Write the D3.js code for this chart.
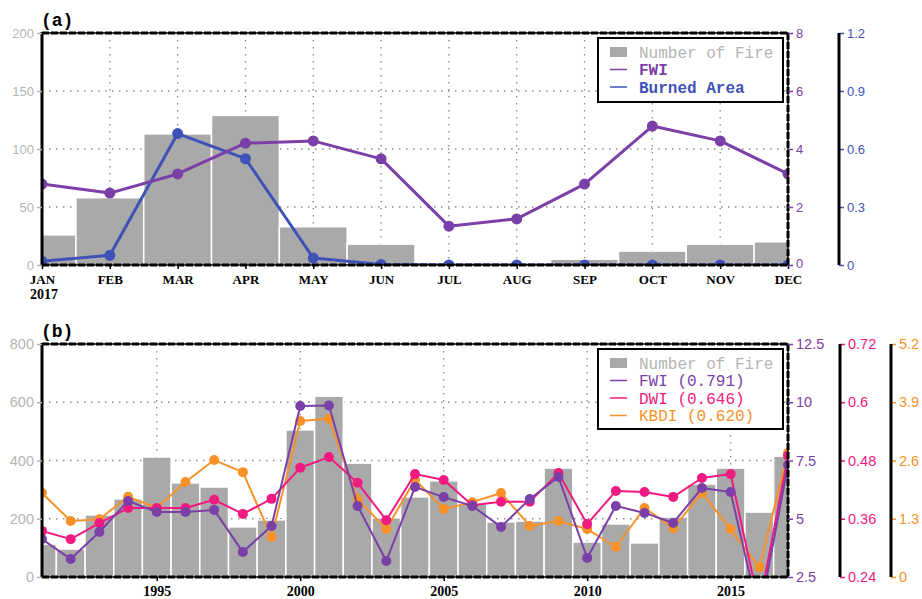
<!DOCTYPE html>
<html>
<head>
<meta charset="utf-8">
<script src="https://cdn.jsdelivr.net/npm/d3@7"></script>
<style>
  body { margin: 0; background: #fff; }
  svg { display: block; }
</style>
</head>
<body>
<div id="chart"></div>
<script>
// datos panel (a) - 2017 mensual
var months = ['JAN','FEB','MAR','APR','MAY','JUN','JUL','AUG','SEP','OCT','NOV','DEC']
var fireA = [26, 58, 113, 129, 33, 18, 0, 0, 5, 12, 18, 20]
var fwiA = [2.79, 2.48, 3.14, 4.2, 4.28, 3.66, 1.34, 1.59, 2.79, 4.79, 4.28, 3.14]
var burnedA = [0.02, 0.05, 0.68, 0.55, 0.036, 0.003, 0, 0, 0, 0, 0, 0]

// datos panel (b) - anual 1991-2017
var years = d3.range(1991, 2018)
var fireB = [113, 96, 213, 268, 412, 323, 309, 172, 196, 505, 621, 391, 203, 275, 330, 250, 189, 192, 374, 120, 182, 117, 206, 319, 374, 223, 415]
var fwiB = [4.13, 3.27, 4.43, 5.76, 5.29, 5.29, 5.38, 3.57, 4.69, 9.84, 9.86, 5.55, 3.19, 6.36, 5.93, 5.55, 4.65, 5.85, 6.79, 3.32, 5.55, 5.25, 4.82, 6.32, 6.15, 0.8, 7.31]
var dwiB = [0.335, 0.318, 0.351, 0.382, 0.382, 0.382, 0.399, 0.37, 0.401, 0.465, 0.487, 0.434, 0.357, 0.452, 0.44, 0.388, 0.395, 0.395, 0.454, 0.349, 0.417, 0.415, 0.405, 0.444, 0.452, 0.18, 0.49]
var kbdiB = [1.875, 1.25, 1.29, 1.79, 1.54, 2.12, 2.61, 2.34, 0.89, 3.48, 3.53, 1.74, 1.07, 2.17, 1.52, 1.67, 1.875, 1.14, 1.25, 1.07, 0.67, 1.54, 1.09, 1.875, 1.07, 0.22, 2.77]
var yearTicks = [1995, 2000, 2005, 2010, 2015]

var legendA = ['Number of Fire', 'FWI', 'Burned Area']
var legendB = ['Number of Fire', 'FWI (0.791)', 'DWI (0.646)', 'KBDI (0.620)']

// colores
var cBar = '#a9a9a9'
var cPurple = '#7b3fa8'
var cBlue = '#3f52b8'
var cPink = '#f01a80'
var cOrange = '#f7922a'
var cGrey = '#b4b4b4'

var width = 922
var height = 599
var left = 42, right = 788
var plain = function(d){ return String(d) }

var svg = d3.select('#chart')
    .append('svg')
    .attr('width', width)
    .attr('height', height)

var defs = svg.append('defs')

function clip(id, y0, y1){
    defs.append('clipPath').attr('id', id)
        .append('rect').attr('x', left).attr('y', y0)
        .attr('width', right - left).attr('height', y1 - y0)
    return 'url(#' + id + ')'
}

function frame(y0, y1){
    var g = svg.append('g')
    g.append('rect').attr('x', left).attr('y', y0).attr('width', right - left).attr('height', y1 - y0)
        .attr('fill', 'none').attr('stroke', '#000').attr('stroke-width', 1.5)
    var dash = [[left, y0, right, y0], [left, y1, right, y1], [right, y0, right, y1]]
    dash.forEach(function(d){
        g.append('line').attr('x1', d[0]).attr('y1', d[1]).attr('x2', d[2]).attr('y2', d[3])
            .attr('stroke', '#000').attr('stroke-width', 3).attr('stroke-dasharray', '7,2')
    })
    g.append('line').attr('x1', left).attr('y1', y0 - 1).attr('x2', left).attr('y2', y1 + 1)
        .attr('stroke', '#000').attr('stroke-width', 3)
}

function grid(g, xs, ys, y0, y1){
    xs.forEach(function(x){
        g.append('line').attr('x1', x).attr('x2', x).attr('y1', y0).attr('y2', y1)
            .attr('stroke', '#8a8a8a').attr('stroke-width', 1.3).attr('stroke-dasharray', '1.5,5.5')
    })
    ys.forEach(function(y){
        g.append('line').attr('x1', left).attr('x2', right).attr('y1', y).attr('y2', y)
            .attr('stroke', '#8a8a8a').attr('stroke-width', 1.3).attr('stroke-dasharray', '1.5,5.5')
    })
}

function styleAxis(g, color, size){
    g.select('.domain').remove()
    g.selectAll('.tick line').attr('stroke', color).attr('stroke-width', 1.5)
    g.selectAll('.tick text').attr('fill', color)
        .style('font-family', '"Liberation Sans", Arial, sans-serif').style('font-size', size + 'px')
}

// eje extra a la derecha (linea negra con ticks de color)
function sideAxis(x, scale, ticks, color, size, y0, y1){
    var g = svg.append('g').attr('transform', 'translate(' + x + ',0)')
        .call(d3.axisRight(scale).tickValues(ticks).tickSize(5).tickPadding(3).tickFormat(plain))
    styleAxis(g, color, size)
    g.append('line').attr('x1', 0).attr('x2', 0).attr('y1', y0).attr('y2', y1)
        .attr('stroke', '#000').attr('stroke-width', 3)
}

function legend(x0, y0, w, h, items, colors, bold){
    var g = svg.append('g')
    g.append('rect').attr('x', x0).attr('y', y0).attr('width', w).attr('height', h)
        .attr('fill', '#fff').attr('stroke', '#000').attr('stroke-width', 2)
    items.forEach(function(t, i){
        var cy = y0 + 14 + i * 17.5
        if (i == 0) {
            g.append('rect').attr('x', x0 + 12).attr('y', cy - 5).attr('width', 17).attr('height', 10).attr('fill', cBar)
        } else {
            g.append('line').attr('x1', x0 + 12).attr('x2', x0 + 29).attr('y1', cy).attr('y2', cy)
                .attr('stroke', colors[i]).attr('stroke-width', 1.5)
        }
        g.append('text').attr('x', x0 + 41).attr('y', cy).attr('dy', '0.35em')
            .attr('fill', i == 0 ? cGrey : colors[i])
            .style('font-family', '"Liberation Mono", "DejaVu Sans Mono", monospace')
            .style('font-size', '16px')
            .style('font-weight', (bold && i > 0) ? 'bold' : 'normal')
            .text(t)
    })
}

function serie(g, data, xf, yf, color, lw, r){
    var line = d3.line().x(function(d, i){ return xf(i) }).y(function(d){ return yf(d) })
    g.append('path').datum(data).attr('d', line)
        .attr('fill', 'none').attr('stroke', color).attr('stroke-width', lw).attr('stroke-linejoin', 'round')
    g.selectAll(null).data(data).enter().append('circle')
        .attr('cx', function(d, i){ return xf(i) })
        .attr('cy', function(d){ return yf(d) })
        .attr('r', r).attr('fill', color)
}

/* ---------------- panel (a) ---------------- */
var aTop = 33, aBot = 265

var xA = d3.scalePoint().domain(months).range([left, right])
var stepA = xA.step()
var yFireA = d3.scaleLinear().domain([0, 200]).range([aBot, aTop])
var yFwiA = d3.scaleLinear().domain([0, 8]).range([aBot, aTop])
var yBurnA = d3.scaleLinear().domain([0, 1.2]).range([aBot, aTop])

var gA = svg.append('g').attr('clip-path', clip('clipA', aTop, aBot))
grid(gA, months.slice(1, 11).map(function(m){ return xA(m) }), [50, 100, 150].map(yFireA), aTop, aBot)

gA.selectAll('rect.bar').data(fireA).enter().append('rect')
    .attr('class', 'bar')
    .attr('x', function(d, i){ return xA(months[i]) - stepA / 2 })
    .attr('y', function(d){ return yFireA(d) })
    .attr('width', stepA)
    .attr('height', function(d){ return aBot - yFireA(d) })
    .attr('fill', cBar).attr('stroke', '#fff').attr('stroke-width', 1.5)

serie(gA, burnedA, function(i){ return xA(months[i]) }, yBurnA, cBlue, 3, 5.5)
serie(gA, fwiA, function(i){ return xA(months[i]) }, yFwiA, cPurple, 3, 5.5)

frame(aTop, aBot)

var axA = svg.append('g').attr('transform', 'translate(' + left + ',0)')
    .call(d3.axisLeft(yFireA).tickValues([0, 50, 100, 150, 200]).tickSize(5).tickPadding(3))
styleAxis(axA, cGrey, 13)

var axAx = svg.append('g').attr('transform', 'translate(0,' + aBot + ')')
    .call(d3.axisBottom(xA).tickSize(4).tickPadding(6))
axAx.select('.domain').remove()
axAx.selectAll('.tick line').attr('stroke', '#000').attr('stroke-width', 1.5)
axAx.selectAll('.tick text').attr('fill', '#000')
    .style('font-family', '"Liberation Serif", "Times New Roman", serif')
    .style('font-size', '13px').style('font-weight', 'bold')
svg.append('text').attr('x', xA('JAN') + 2).attr('y', 299).attr('text-anchor', 'middle')
    .style('font-family', '"Liberation Serif", "Times New Roman", serif')
    .style('font-size', '14px').style('font-weight', 'bold').text('2017')

var axAf = svg.append('g').attr('transform', 'translate(' + right + ',0)')
    .call(d3.axisRight(yFwiA).tickValues([0, 2, 4, 6, 8]).tickSize(5).tickPadding(3))
styleAxis(axAf, cPurple, 13)
axAf.selectAll('.tick text').filter(function(d){ return d == 0 }).attr('y', -2)

sideAxis(839, yBurnA, [0, 0.3, 0.6, 0.9, 1.2], cBlue, 13, aTop, aBot)

legend(598, 38, 185, 64, legendA, [cBar, cPurple, cBlue], true)

svg.append('text').attr('x', 41).attr('y', 26)
    .style('font-family', '"Liberation Mono", "DejaVu Sans Mono", monospace')
    .style('font-size', '18px').style('font-weight', 'bold').text('(a)')

/* ---------------- panel (b) ---------------- */
var bTop = 344, bBot = 577

var xB = d3.scaleLinear().domain([1991, 2017]).range([left, right])
var stepB = xB(1992) - xB(1991)
var yFireB = d3.scaleLinear().domain([0, 800]).range([bBot, bTop])
var yFwiB = d3.scaleLinear().domain([2.5, 12.5]).range([bBot, bTop])
var yDwiB = d3.scaleLinear().domain([0.24, 0.72]).range([bBot, bTop])
var yKbdiB = d3.scaleLinear().domain([0, 5.2]).range([bBot, bTop])

var gB = svg.append('g').attr('clip-path', clip('clipB', bTop, bBot))
grid(gB, yearTicks.map(xB), [200, 400, 600].map(yFireB), bTop, bBot)

gB.selectAll('rect.bar').data(fireB).enter().append('rect')
    .attr('class', 'bar')
    .attr('x', function(d, i){ return xB(years[i]) - stepB / 2 })
    .attr('y', function(d){ return yFireB(d) })
    .attr('width', stepB)
    .attr('height', function(d){ return bBot - yFireB(d) })
    .attr('fill', cBar).attr('stroke', '#fff').attr('stroke-width', 1.5)

var xi = function(i){ return xB(years[i]) }
serie(gB, kbdiB, xi, yKbdiB, cOrange, 2, 5)
serie(gB, dwiB, xi, yDwiB, cPink, 2, 5)
serie(gB, fwiB, xi, yFwiB, cPurple, 2, 5)

frame(bTop, bBot)

var axB = svg.append('g').attr('transform', 'translate(' + left + ',0)')
    .call(d3.axisLeft(yFireB).tickValues([0, 200, 400, 600, 800]).tickSize(5).tickPadding(3))
styleAxis(axB, cGrey, 14.5)

var axBx = svg.append('g').attr('transform', 'translate(0,' + bBot + ')')
    .call(d3.axisBottom(xB).tickValues(yearTicks).tickFormat(d3.format('d')).tickSize(4).tickPadding(5))
axBx.select('.domain').remove()
axBx.selectAll('.tick line').attr('stroke', '#000').attr('stroke-width', 1.5)
axBx.selectAll('.tick text').attr('fill', '#000')
    .style('font-family', '"Liberation Serif", "Times New Roman", serif')
    .style('font-size', '14px').style('font-weight', 'bold')

var axBf = svg.append('g').attr('transform', 'translate(' + right + ',0)')
    .call(d3.axisRight(yFwiB).tickValues([2.5, 5, 7.5, 10, 12.5]).tickSize(5).tickPadding(3).tickFormat(plain))
styleAxis(axBf, cPurple, 14.5)

sideAxis(840, yDwiB, [0.24, 0.36, 0.48, 0.6, 0.72], cPink, 14.5, bTop, bBot)
sideAxis(891, yKbdiB, [0, 1.3, 2.6, 3.9, 5.2], cOrange, 14.5, bTop, bBot)

legend(598, 349, 185, 80, legendB, [cBar, cPurple, cPink, cOrange], false)

svg.append('text').attr('x', 41).attr('y', 337)
    .style('font-family', '"Liberation Mono", "DejaVu Sans Mono", monospace')
    .style('font-size', '18px').style('font-weight', 'bold').text('(b)')
</script>
</body>
</html>
